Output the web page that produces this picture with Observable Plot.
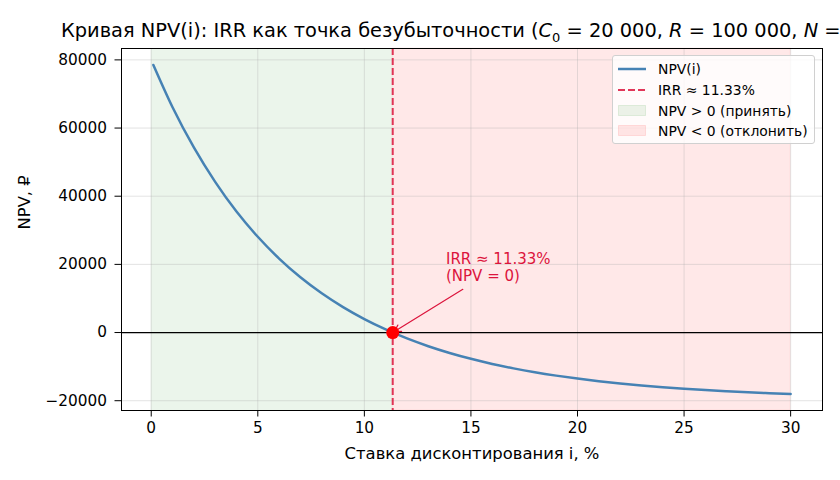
<!DOCTYPE html>
<html>
<head>
<meta charset="utf-8">
<script src="https://cdn.jsdelivr.net/npm/d3@7"></script>
<script src="https://cdn.jsdelivr.net/npm/@observablehq/plot@0.6"></script>
<style>
  html, body { margin: 0; padding: 0; background: #fff; }
  body { width: 840px; height: 480px; overflow: hidden; position: relative; font-family: "DejaVu Sans", sans-serif; }
  #title { position: absolute; left: 0; top: 0; width: 840px; height: 46px; overflow: hidden; }
  #title span { position: absolute; left: 470px; top: 19px; transform: translateX(-50%); white-space: nowrap; font-size: 19.4px; line-height: normal; color: #000; }
  #chart { position: absolute; left: 0; top: 40px; }
  #legend { position: absolute; left: 612px; top: 55px; width: 203px; height: 89px; border: 1px solid #d0d0d0; border-radius: 3px; background: rgba(255,255,255,0.8); font-size: 13.9px; box-sizing: border-box; }
  .row { position: absolute; left: 0; height: 20px; display: flex; align-items: center; white-space: nowrap; }
  .hand { width: 28px; margin-left: 5px; margin-right: 12px; display: flex; align-items: center; }
</style>
</head>
<body>
<div id="title"><span>Кривая NPV(i): IRR как точка безубыточности (<i>C</i><sub style="font-size:13px">0</sub> = 20 000, <i>R</i> = 100 000, <i>N</i> = 15)</span></div>
<div id="chart"></div>
<div id="legend"></div>
<script>
// Data
const rates = [0.1, 1, 2, 3, 4, 5, 6, 7, 8, 9, 10, 11, 12, 13, 14, 15, 16, 17, 18, 19, 20, 21, 22, 23, 24, 25, 26, 27, 28, 29, 30];
const npvValues = [78500, 66100, 54300, 44200, 35500, 28100, 21700, 16200, 11500, 7450, 3940, 900, -1730, -4010, -5990, -7710, -9210, -10510, -11650, -12640, -13510, -14270, -14940, -15520, -16030, -16480, -16880, -17230, -17540, -17810, -18050];
const irr = 11.33;
const rateMin = 0;
const rateMax = 30;
const xTicks = [0, 5, 10, 15, 20, 25, 30];
const yTicks = [-20000, 0, 20000, 40000, 60000, 80000];
const annotationText = ["IRR ≈ 11.33%\n(NPV = 0)"];
const annotationPos = { x: 13.83, y: 15000 };
const arrowStart = { x: 14.62, y: 12700 };
const legendLabels = ["NPV(i)", "IRR ≈ 11.33%", "NPV > 0 (принять)", "NPV < 0 (отклонить)"];

const curve = rates.map((r, k) => ({ rate: r, npv: npvValues[k] }));
const crimson = "#dc143c";

const plot = Plot.plot({
  width: 840,
  height: 440,
  marginTop: 8,
  marginBottom: 70,
  marginLeft: 121,
  marginRight: 18,
  style: { fontFamily: "DejaVu Sans, sans-serif", fontSize: "15.3px", color: "#000", background: "transparent" },
  x: { domain: [-1.395, 31.495], label: null },
  y: { domain: [-22874, 83341], label: null },
  marks: [
    Plot.rect([{ a: rateMin, b: irr }], { x1: "a", x2: "b", fill: "green", fillOpacity: 0.08 }),
    Plot.rect([{ a: irr, b: rateMax }], { x1: "a", x2: "b", fill: "red", fillOpacity: 0.09, stroke: "red", strokeOpacity: 0.06 }),
    Plot.gridX(xTicks, { stroke: "#b0b0b0", strokeOpacity: 0.35 }),
    Plot.gridY(yTicks, { stroke: "#b0b0b0", strokeOpacity: 0.35 }),
    Plot.ruleY([0], { stroke: "black", strokeWidth: 1.2 }),
    Plot.line(curve, { x: "rate", y: "npv", stroke: "steelblue", strokeWidth: 2.5, curve: "monotone-x" }),
    Plot.ruleX([irr], { stroke: crimson, strokeOpacity: 0.85, strokeWidth: 2, strokeDasharray: "7,3" }),
    Plot.arrow([{ x1: arrowStart.x, y1: arrowStart.y, x2: irr, y2: 0 }], { x1: "x1", y1: "y1", x2: "x2", y2: "y2", stroke: crimson, strokeWidth: 1.2, headLength: 9, bend: 0, insetEnd: 2 }),
    Plot.dot([{ x: irr, y: 0 }], { x: "x", y: "y", r: 6.5, fill: "red", stroke: "none" }),
    Plot.text(annotationText, { x: () => annotationPos.x, y: () => annotationPos.y, text: d => d, textAnchor: "start", lineAnchor: "bottom", fill: crimson, fontSize: 15, lineHeight: 1.15 }),
    Plot.axisX(xTicks, { tickSize: 6.5, tickPadding: 5, tickFormat: d3.format("d"), label: null, fontSize: 15.3 }),
    Plot.axisY(yTicks, { tickSize: 6.5, tickPadding: 8, tickFormat: d3.format("d"), label: null, fontSize: 15.3 }),
    Plot.frame({ stroke: "black", strokeWidth: 1 }),
    Plot.text(["Ставка дисконтирования i, %"], { frameAnchor: "bottom", dy: 48, text: d => d, fontSize: 16.4 }),
    Plot.text(["NPV, ₽"], { frameAnchor: "left", dx: -97, rotate: -90, text: d => d, fontSize: 16.4 })
  ]
});
document.getElementById("chart").appendChild(plot);

// Legend
const legend = document.getElementById("legend");
const handles = [
  '<svg width="28" height="10"><line x1="0" y1="5" x2="28" y2="5" stroke="steelblue" stroke-width="2.5"/></svg>',
  '<svg width="28" height="10"><line x1="0" y1="5" x2="28" y2="5" stroke="' + crimson + '" stroke-opacity="0.85" stroke-width="2" stroke-dasharray="7,3"/></svg>',
  '<svg width="28" height="12"><rect x="0.5" y="0.5" width="27" height="10" fill="rgba(0,128,0,0.08)" stroke="rgba(0,128,0,0.1)"/></svg>',
  '<svg width="28" height="12"><rect x="0.5" y="0.5" width="27" height="10" fill="rgba(255,0,0,0.09)" stroke="rgba(255,0,0,0.1)"/></svg>'
];
legendLabels.forEach((lab, k) => {
  const row = document.createElement("div");
  row.className = "row";
  row.style.top = (3 + k * 20.8) + "px";
  row.innerHTML = '<div class="hand">' + handles[k] + '</div><div>' + lab + '</div>';
  legend.appendChild(row);
});
</script>
</body>
</html>
